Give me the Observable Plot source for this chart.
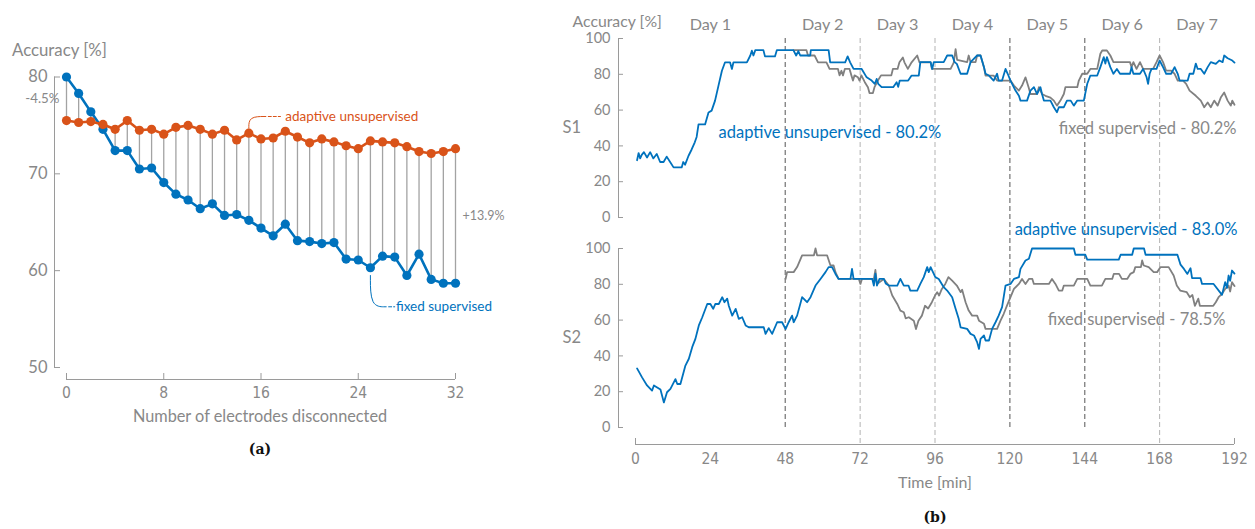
<!DOCTYPE html>
<html>
<head>
<meta charset="utf-8">
<script src="https://cdn.jsdelivr.net/npm/d3@7"></script>
<script src="https://cdn.jsdelivr.net/npm/@observablehq/plot@0.6"></script>
<style>
  html, body { margin: 0; padding: 0; background: #fff; }
  body { width: 1255px; height: 529px; position: relative; overflow: hidden; font-family: Lato, "Open Sans", sans-serif; color: #888; }
  .abs { position: absolute; }
  .t { position: absolute; white-space: nowrap; line-height: 20px; }
  .cap { font-family: "DejaVu Serif", "Liberation Serif", serif; font-weight: bold; color: #111; font-size: 14px; text-align: center; }
</style>
</head>
<body>
<div id="pa" class="abs" style="left:0;top:0"></div>
<div id="pb1" class="abs" style="left:560px;top:0"></div>
<div id="pb2" class="abs" style="left:560px;top:222px"></div>
<div class="t" style="left:12px;top:40px;font-size:16.8px">Accuracy [%]</div>
<div class="t" style="left:60px;width:400px;top:406px;font-size:16.3px;text-align:center">Number of electrodes disconnected</div>
<div class="t cap" style="left:210px;width:100px;top:439px">(a)</div>
<div class="t" style="left:835px;width:200px;top:472px;font-size:16px;text-align:center">Time [min]</div>
<div class="t cap" style="left:885px;width:100px;top:507px">(b)</div>
<script>
// ---------- Panel (a) data ----------
const electrodes = [0,1,2,3,4,5,6,7,8,9,10,11,12,13,14,15,16,17,18,19,20,21,22,23,24,25,26,27,28,29,30,31,32];
const fixedSupervised = [80.0,78.3,76.4,74.6,72.4,72.4,70.5,70.6,69.1,67.9,67.3,66.4,66.9,65.7,65.8,65.2,64.4,63.6,64.8,63.1,63.0,62.8,62.9,61.2,61.1,60.3,61.5,61.4,59.5,61.7,59.1,58.7,58.7];
const adaptiveUnsupervised = [75.5,75.3,75.4,75.1,74.6,75.5,74.5,74.6,74.1,74.8,75.0,74.6,74.1,74.5,73.5,74.2,73.6,73.7,74.4,73.8,73.2,73.6,73.3,72.9,72.6,73.4,73.3,73.2,72.8,72.3,72.1,72.3,72.6];
const xTicksA = [0, 8, 16, 24, 32];
const yTicksA = [50, 60, 70, 80];
const seriesNamesA = ["adaptive unsupervised", "fixed supervised"];

// ---------- Panel (b) data ----------
const dayBounds = [0, 48, 72, 96, 120, 144, 168, 192];
const dayNames = ["Day 1", "Day 2", "Day 3", "Day 4", "Day 5", "Day 6", "Day 7"];
const darkDayLines = [48, 120, 144];
const lightDayLines = [72, 96, 168];
const xTicksB = [0, 24, 48, 72, 96, 120, 144, 168, 192];
const yTicksB = [0, 20, 40, 60, 80, 100];
const subjects = ["S1", "S2"];
const labelsB = {
  s1Adaptive: "adaptive unsupervised - 80.2%",
  s1Fixed: "fixed supervised - 80.2%",
  s2Adaptive: "adaptive unsupervised - 83.0%",
  s2Fixed: "fixed supervised - 78.5%"
};

// [time (min), accuracy (%)]
const s1Adaptive = [[0.5,32],[1,36],[1.5,33],[2,35],[2.7,36.5],[3.7,33.5],[4.7,36.5],[5.7,33],[6.8,35.5],[7.9,31],[9,31],[10,34],[11.1,31],[12.2,28],[14.8,28],[15.3,31],[15.9,29.5],[17,34.5],[18,38],[19,42],[19.6,45],[20.2,52],[22.3,52],[23.4,58.7],[24.4,59.7],[25.5,65.3],[26.6,73.7],[27.7,82],[28.7,86.7],[30.3,86.7],[30.9,83],[31.4,86.7],[35.7,86.7],[36.8,90.5],[37.3,93.2],[37.8,90.5],[38.4,93.5],[41,93.5],[41.5,90],[44.7,90],[45.3,93.5],[50.6,93.5],[51.5,90.5],[52.2,93],[52.8,90.5],[56,90.5],[56.2,93.5],[61.9,93.5],[62.4,86.7],[67.2,86.7],[68,90],[68.8,86.7],[69.9,83],[72.5,83],[74.1,78.3],[75.7,76.5],[76.7,74.7],[77.3,77.4],[77.8,74.7],[78.9,72.8],[82.6,72.8],[83.7,75.6],[84.2,73],[84.7,76.5],[87.4,76.5],[88.5,79.3],[90.8,79.3],[91.3,86.8],[94.6,86.8],[95.1,83],[95.6,86.8],[98.8,86.8],[99.9,90.5],[101.5,90.5],[102.3,86.8],[103,85.8],[104.2,80.3],[106.3,80.3],[107.4,86.8],[109.5,90.5],[110.6,90.5],[111.7,84],[112.2,80.3],[113.3,79.3],[114.8,76.5],[115.9,80.3],[116.4,76.5],[117.5,76.5],[118.6,83],[119.3,80.3],[120.2,76.5],[121.8,70.9],[122.9,68],[123.4,65.3],[125.5,65.3],[126.6,70.9],[127.7,72.8],[128.7,69],[129.8,72.8],[130.3,69],[130.9,65.3],[133,65.3],[134.1,61.6],[135.1,58.8],[135.7,61.6],[137.3,61.6],[138.3,65.3],[139.5,65.3],[140.5,62.5],[141.6,65.3],[143.7,65.3],[144.8,74.7],[145.8,79.3],[148,79.3],[149,84],[150.1,89.6],[150.6,86],[151.1,89.6],[152.2,84],[153.2,80.3],[154.3,83],[155.3,80.3],[158.5,80.3],[159,84],[159.6,80.3],[161.7,80.3],[162.7,83],[163.8,78.5],[164.3,74.7],[164.8,80.3],[165.4,83],[167,83],[168,87.7],[169.1,84],[170.1,80.3],[171.7,80.3],[172.8,84],[173.8,80.3],[174.4,76.5],[177,76.5],[177.6,80.3],[178.8,80.3],[179.6,86],[180.2,83],[181.2,83],[182.3,80.3],[183.4,84],[184.4,86.8],[186,85.8],[187.1,87.7],[188.2,86.8],[188.7,90.5],[189.8,89],[191.3,87.7],[192,86.5]];

const s1Fixed = [[50.6,93.5],[54.8,93.5],[55.3,90.5],[57.4,90.5],[58.5,86.7],[61.2,86.7],[62.2,83],[64.9,83],[65.4,79.4],[66,82],[66.5,79.4],[67.1,83],[68.6,83],[69.2,79.4],[69.7,76.5],[70.2,79.4],[71.3,78.3],[71.8,76.5],[72.4,79.4],[73.5,75.6],[74.5,72.8],[75,69.5],[76.1,69.5],[76.6,72.8],[77.7,76.5],[78.7,79.4],[82,79.4],[82.5,83],[84,83],[84.6,86.7],[85.7,89.4],[86.2,86.7],[87.3,83],[88.5,86.7],[90.3,90.5],[91,86.7],[94.6,86.7],[95,83],[101,83],[102,86.5],[102.6,94],[103.1,88],[106.3,86.8],[106.8,90.5],[107.4,86.8],[109,86.8],[109.5,90.5],[110.6,90.5],[111.7,84],[112.2,79.3],[114.8,79.3],[115.9,76.5],[120.2,76.5],[121.3,73.7],[122.9,70.9],[123.9,73.7],[125,78.3],[126,72.8],[126.6,69],[128.7,69],[129.3,72.8],[130.3,69],[131.4,68],[133,67],[134.1,65.3],[135.1,62.5],[136.2,65.3],[137.3,69],[137.8,72.8],[141.6,72.8],[142.1,76.5],[143.2,80.3],[144.8,80.3],[145.8,83],[148,83],[149,91.5],[149.6,93.3],[151.1,93.3],[152.2,90.5],[153.2,86.8],[158.5,86.8],[159,84],[159.6,86.8],[160.6,83],[161.7,86.8],[162.7,83],[165.9,83],[167,86.8],[168,90.5],[169.1,86.8],[170.1,82],[171.7,82],[172.8,80.3],[173.8,76.5],[175.5,76.5],[176.5,74.7],[177.6,70.9],[179.6,68],[181.2,65.3],[182.3,61.6],[183.4,64.3],[184.4,61.6],[185.5,65.3],[186.6,62.5],[187.6,67],[188.7,69.8],[189.8,65.3],[190.8,62.5],[191.3,65.3],[192,63]];

const s2Adaptive = [[0.5,33],[2.1,28],[3.7,23.5],[5.3,20.6],[5.9,23.5],[8,21.2],[9.1,14],[10.1,19.7],[11.2,21.6],[12.8,27],[13.4,24.3],[14.4,24.3],[16,34.6],[17.1,38.4],[18.2,45],[19.2,49.5],[20.3,57],[21.4,61.6],[23,69],[24,69],[24.9,66.3],[25.6,69],[26.7,69],[27.8,72.8],[28.5,70],[29.4,72],[29.9,68],[31,62.5],[32.1,66.3],[33.1,60.7],[34.2,61.6],[35.3,57],[36.3,56],[41.1,56],[41.7,52.3],[42.7,55.5],[43.8,52.3],[45.4,58.8],[47,58.8],[48.1,55],[49.1,58.8],[50.2,62.5],[50.7,58.8],[51.8,62.5],[53.4,72.8],[55,70],[56.1,72.8],[57.7,79.3],[59.3,83],[60.9,86.8],[61.9,89.6],[63,89.6],[64.1,85.8],[65.1,83],[68.9,83],[69.4,88.6],[69.9,83],[75.9,83],[76.4,79.3],[76.9,86],[77.4,79.3],[78.2,83],[79.6,83],[80.2,80.5],[81.2,79.3],[83.9,79.3],[84.9,83],[86,79.3],[87.5,79.3],[88.1,76.5],[90.3,76.5],[91.3,80.2],[92.4,84],[93.5,89.6],[94,86.8],[94.6,89.6],[96.1,84],[97.2,83],[98.8,78.4],[99.9,76.5],[101.5,72.8],[102.6,66.3],[103.6,60.7],[104.2,56],[106.3,55.1],[107.4,52.3],[108.5,51.4],[109.5,47.7],[110.1,43.9],[110.6,49.5],[111.7,51.4],[112.2,48.6],[113.3,48.6],[114.3,55.1],[115.4,58.8],[116.4,62.5],[117.5,67.2],[118.6,79.3],[120.2,80.2],[121.3,83],[122.9,84],[123.4,88.6],[125,93.3],[126.1,94.3],[127.1,100],[140.5,100],[141,96.5],[144.2,96.5],[144.8,93.8],[154.9,93.8],[155.5,96.5],[159.2,96.5],[159.7,100],[163,100],[163.5,96.5],[173.7,96.5],[174.7,91],[175.8,88.6],[176.9,85.8],[177.9,89],[178.4,83.4],[181.1,83.4],[181.6,80.2],[185.3,80.2],[188,74.1],[189,81.2],[189.6,78],[190.1,84.9],[190.6,82],[191.2,87.7],[192,86]];

const s2Fixed = [[48.1,83],[48.6,86.8],[50.7,86.8],[51.8,89.6],[53.4,96.2],[57.2,96.2],[57.7,100],[58.2,96.2],[61.4,96.2],[62.5,90.5],[63.5,90.5],[64.1,86.8],[65.1,83],[71.6,83],[72.1,80.2],[72.6,83],[76.4,83],[76.9,88],[77.4,80.2],[79.6,83],[81.2,79.3],[82.3,73.7],[83.9,69],[84.9,65.3],[86,64.4],[86.6,61],[87.6,61.6],[89.2,59.7],[89.9,55],[90.7,59.7],[91.8,62.5],[92.8,68],[93.8,66.5],[95,70],[96,73.7],[96.7,75.6],[97.3,73.7],[98.2,77.4],[99.3,80.2],[100.3,84],[101.5,82],[103,79.3],[104.2,75.6],[104.7,77],[105.8,70],[106.8,65.3],[107.9,62.5],[109.5,62.5],[110.1,59.7],[111.7,57.9],[112.2,55.1],[115.9,55.1],[117,59.7],[118,63.4],[119.1,68.2],[120.2,72.8],[121.3,77.4],[122.9,80.2],[123.9,83],[125,80.2],[126.1,83],[127.2,83],[127.7,80.2],[132.5,80.2],[133.5,83],[134.6,80.2],[135.7,76.5],[136.8,76.5],[137.3,79.3],[140.5,79.3],[141.6,83],[144.8,83],[145.8,79.3],[149.5,79.3],[150.6,83],[152.8,83],[153.3,85.8],[155,85.8],[155.9,83],[157.6,83],[158.6,85.8],[159.7,86.8],[160.2,89.6],[162,89.6],[162.4,93.3],[162.9,90.5],[164.5,89.6],[166.1,86.8],[167.2,86.8],[168.3,89.6],[170.9,89.6],[172.5,84.9],[173.5,79.3],[174.6,76.5],[176.7,75.6],[177.7,72.8],[178.5,74],[179.3,68],[180.4,72],[180.9,68],[185.2,68],[186,70],[186.9,72.8],[188,74.7],[189,77.4],[190.1,79.3],[190.6,76],[191.2,81.2],[192,79]];

// ---------- styling ----------
const blue = "#0072bd", orange = "#d95319", lineGray = "#808080", textGray = "#888", axisGray = "#9a9a9a";
const baseStyle = {fontFamily: "Lato, 'Open Sans', sans-serif", color: textGray, background: "transparent", overflow: "visible"};
const tickFont = "'Liberation Sans Narrow', 'DejaVu Sans Condensed', Roboto, sans-serif";
const fsB = 16.5;

// ---------- Panel (a) ----------
const rowsA = electrodes.map((n, i) => ({n, fixed: fixedSupervised[i], adaptive: adaptiveUnsupervised[i]}));
const firstA = rowsA[0], lastA = rowsA[rowsA.length - 1];
const diffText = d => { const v = d.adaptive - d.fixed; return (v > 0 ? "+" : "-") + Math.abs(v).toFixed(1) + "%"; };
const midY = d => (d.fixed + d.adaptive) / 2;
// annotation anchors (label placement, in data units)
const adaptiveLeader = [[15, 74.7], [15, 75.92], [16.4, 75.92]];
const adaptiveLeaderTail = [[16.6, 75.92], [17.6, 75.92]];
const fixedLeader = [[25, 59.5], [25, 56.27], [26.3, 56.27]];
const fixedLeaderTail = [[26.5, 56.27], [27.0, 56.27]];

const plotA = Plot.plot({
  width: 540, height: 440,
  marginLeft: 66, marginRight: 85, marginTop: 76.5, marginBottom: 73,
  x: {domain: [0, 32], label: null},
  y: {domain: [50, 80], label: null},
  style: baseStyle,
  marks: [
    Plot.ruleX(rowsA, {x: "n", y1: "fixed", y2: "adaptive", stroke: "#a3a3a3", strokeWidth: 1.3}),
    Plot.ruleX([0], {y1: 50, y2: 80, dx: -12, stroke: axisGray}),
    Plot.ruleY([50], {x1: 0, x2: 32, dy: 12, stroke: axisGray}),
    Plot.axisY({ticks: yTicksA, tickSize: 0, tickPadding: 19, fontSize: 16.5, fill: textGray, label: null}),
    Plot.axisY({ticks: yTicksA, text: null, tickSize: 6, dx: -6, stroke: axisGray, label: null}),
    Plot.axisX({ticks: xTicksA, tickSize: 0, tickPadding: 19, fontSize: 15.5, fill: textGray, fontFamily: tickFont, label: null}),
    Plot.axisX({ticks: xTicksA, text: null, tickSize: 6, dy: 6, stroke: axisGray, label: null}),
    Plot.line(rowsA, {x: "n", y: "fixed", stroke: blue, strokeWidth: 2.6}),
    Plot.dot(rowsA, {x: "n", y: "fixed", r: 4.6, fill: blue}),
    Plot.line(rowsA, {x: "n", y: "adaptive", stroke: orange, strokeWidth: 2.6}),
    Plot.dot(rowsA, {x: "n", y: "adaptive", r: 4.6, fill: orange}),
    Plot.text([firstA], {x: "n", y: midY, text: diffText, dx: -7, textAnchor: "end", fontSize: 13.3, fill: textGray}),
    Plot.text([lastA], {x: "n", y: midY, text: diffText, dx: 7, textAnchor: "start", fontSize: 12.5, fill: textGray}),
    Plot.line(adaptiveLeader, {x: d => d[0], y: d => d[1], curve: "basis", stroke: orange, strokeWidth: 1}),
    Plot.line(adaptiveLeaderTail, {x: d => d[0], y: d => d[1], stroke: orange, strokeWidth: 1, strokeDasharray: "3,2"}),
    Plot.line(fixedLeader, {x: d => d[0], y: d => d[1], curve: "basis", stroke: blue, strokeWidth: 1}),
    Plot.line(fixedLeaderTail, {x: d => d[0], y: d => d[1], stroke: blue, strokeWidth: 1, strokeDasharray: "3,2"}),
    Plot.text([seriesNamesA[0]], {x: 18.0, y: 75.92, textAnchor: "start", fontSize: 13.5, fill: orange}),
    Plot.text([seriesNamesA[1]], {x: 27.1, y: 56.27, textAnchor: "start", fontSize: 13.5, fill: blue})
  ]
});
document.getElementById("pa").append(plotA);

// ---------- Panel (b) ----------
const xy = {x: d => d[0], y: d => d[1]};
const dayMid = (d, i) => (dayBounds[i] + dayBounds[i + 1]) / 2;
function yAxisMarks() {
  return [
    Plot.ruleX([0], {y1: 0, y2: 100, dx: -17, stroke: axisGray}),
    Plot.axisY({ticks: yTicksB, tickSize: 0, tickPadding: 25, fontSize: 14.5, fill: textGray, label: null}),
    Plot.axisY({ticks: yTicksB, text: null, tickSize: 5, dx: -12, stroke: axisGray, label: null})
  ];
}

const plotB1 = Plot.plot({
  width: 695, height: 222,
  marginLeft: 75, marginRight: 21, marginTop: 38, marginBottom: 5,
  x: {domain: [0, 192], label: null, axis: null},
  y: {domain: [0, 100], label: null},
  style: baseStyle,
  marks: [
    Plot.ruleX(darkDayLines, {x: d => d, stroke: "#7d7d7d", strokeWidth: 1.3, strokeDasharray: "5,3", insetBottom: -5}),
    Plot.ruleX(lightDayLines, {x: d => d, stroke: "#b3b3b3", strokeWidth: 1, strokeDasharray: "5,3", insetBottom: -5}),
    ...yAxisMarks(),
    Plot.line(s1Fixed, {...xy, stroke: lineGray, strokeWidth: 1.8}),
    Plot.line(s1Adaptive, {...xy, stroke: blue, strokeWidth: 1.8}),
    Plot.text(dayNames, {x: dayMid, frameAnchor: "top", dy: -20, fontSize: 16.2, fill: textGray}),
    Plot.text(["Accuracy [%]"], {frameAnchor: "top-left", dx: -63, dy: -23, textAnchor: "start", fontSize: 15.8, fill: textGray}),
    Plot.text([subjects[0]], {frameAnchor: "left", dx: -73, textAnchor: "start", fontSize: 16.5, fill: textGray}),
    Plot.text([labelsB.s1Adaptive], {x: 26.6, y: 47.5, textAnchor: "start", fontSize: fsB, fill: blue}),
    Plot.text([labelsB.s1Fixed], {x: 192, y: 49.7, dx: 2, textAnchor: "end", fontSize: fsB, fill: textGray})
  ]
});
document.getElementById("pb1").append(plotB1);

const plotB2 = Plot.plot({
  width: 695, height: 307,
  marginLeft: 75, marginRight: 21, marginTop: 26, marginBottom: 102,
  x: {domain: [0, 192], label: null},
  y: {domain: [0, 100], label: null},
  style: baseStyle,
  marks: [
    Plot.ruleX(darkDayLines, {x: d => d, stroke: "#7d7d7d", strokeWidth: 1.3, strokeDasharray: "5,3", insetTop: -26}),
    Plot.ruleX(lightDayLines, {x: d => d, stroke: "#b3b3b3", strokeWidth: 1, strokeDasharray: "5,3", insetTop: -26, insetBottom: -17}),
    ...yAxisMarks(),
    Plot.ruleY([0], {x1: 0, x2: 192, dy: 17, stroke: axisGray}),
    Plot.axisX({ticks: [0, 192], text: null, tickSize: 6, dy: 11, stroke: axisGray, label: null}),
    Plot.axisX({ticks: xTicksB, tickSize: 0, tickPadding: 25, fontSize: 15.5, fill: textGray, fontFamily: tickFont, label: null}),
    Plot.line(s2Fixed, {...xy, stroke: lineGray, strokeWidth: 1.8}),
    Plot.line(s2Adaptive, {...xy, stroke: blue, strokeWidth: 1.8}),
    Plot.text([subjects[1]], {frameAnchor: "left", dx: -73, textAnchor: "start", fontSize: 16.5, fill: textGray}),
    Plot.text([labelsB.s2Adaptive], {x: 192, y: 110.6, dx: 3, textAnchor: "end", fontSize: fsB, fill: blue}),
    Plot.text([labelsB.s2Fixed], {x: 192, y: 60.3, dx: -9, textAnchor: "end", fontSize: fsB, fill: textGray})
  ]
});
document.getElementById("pb2").append(plotB2);
</script>
</body>
</html>
